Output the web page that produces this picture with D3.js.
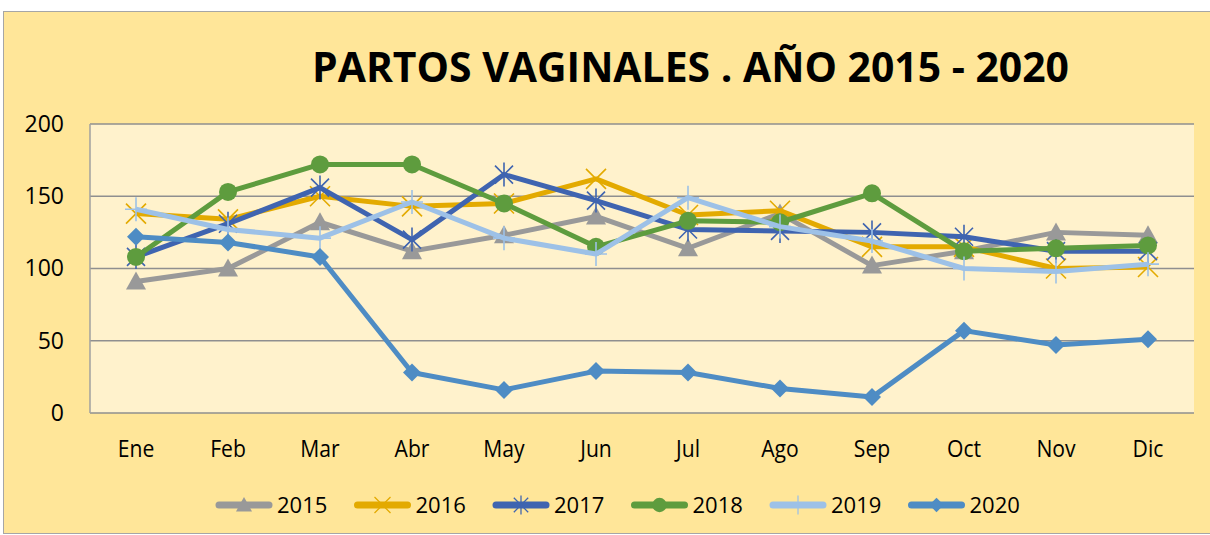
<!DOCTYPE html>
<html>
<head>
<meta charset="utf-8">
<script src="https://d3js.org/d3.v7.min.js"></script>
<style>
  body { margin: 0; background: #ffffff; }
  text { font-family: "Open Sans", "DejaVu Sans", sans-serif; }
</style>
</head>
<body>
<div id="my_dataviz"></div>
<script>
// data
var months = ["Ene", "Feb", "Mar", "Abr", "May", "Jun", "Jul", "Ago", "Sep", "Oct", "Nov", "Dic"];
var years = ["2015", "2016", "2017", "2018", "2019", "2020"];
var s2015 = [91, 100, 132, 112, 123, 136, 114, 138, 102, 112, 125, 123];
var s2016 = [138, 134, 150, 143, 145, 162, 137, 140, 115, 115, 100, 101];
var s2017 = [108, 131, 156, 120, 165, 147, 127, 126, 125, 122, 112, 112];
var s2018 = [108, 153, 172, 172, 145, 115, 133, 132, 152, 112, 114, 116];
var s2019 = [141, 127, 121, 146, 121, 110, 149, 129, 119, 100, 98, 103];
var s2020 = [122, 118, 108, 28, 16, 29, 28, 17, 11, 57, 47, 51];
var yTicks = [0, 50, 100, 150, 200];

var seriesValues = [s2015, s2016, s2017, s2018, s2019, s2020];
var colors = ["#999999", "#E3AA00", "#3F64B0", "#5E9C3E", "#9DC1E7", "#4E8CC4"];
var markers = ["triangle", "x", "asterisk", "circle", "plus", "diamond"];

var W = 1210, H = 535;
// plot area
var margin = {top: 124, right: 16, bottom: 122, left: 90},
    width = W - margin.left - margin.right,
    height = H - margin.top - margin.bottom;

var root = d3.select("#my_dataviz")
  .append("svg")
    .attr("width", W)
    .attr("height", H);

// chart area background
root.append("rect")
  .attr("x", 3.5).attr("y", 11.5)
  .attr("width", W).attr("height", H - 13)
  .attr("fill", "#FFE699")
  .attr("stroke", "#A6A6A6")
  .attr("stroke-width", 1);

// title
root.append("text")
  .attr("x", 312)
  .attr("y", 82)
  .attr("textLength", 757)
  .attr("lengthAdjust", "spacingAndGlyphs")
  .style("font-size", "42px")
  .style("font-weight", "bold")
  .style("fill", "#000")
  .text("PARTOS VAGINALES . AÑO 2015 - 2020");

var svg = root.append("g")
  .attr("transform", "translate(" + margin.left + "," + margin.top + ")");

// plot area background
svg.append("rect")
  .attr("width", width)
  .attr("height", height)
  .attr("fill", "#FFF2CC");

var x = d3.scaleBand()
  .domain(months)
  .range([0, width]);

var y = d3.scaleLinear()
  .domain([0, 200])
  .range([height, 0]);

// gridlines
svg.append("g")
  .selectAll("line")
  .data(yTicks)
  .enter()
  .append("line")
    .attr("x1", 0).attr("x2", width)
    .attr("y1", function(d) { return y(d); })
    .attr("y2", function(d) { return y(d); })
    .attr("stroke", "#8F8F8F")
    .attr("stroke-width", 1.5);

svg.append("line")
  .attr("x1", 0).attr("x2", 0)
  .attr("y1", 0).attr("y2", height)
  .attr("stroke", "#A0A0A0")
  .attr("stroke-width", 1.5);

// X axis
var xAxis = svg.append("g")
  .attr("transform", "translate(0," + height + ")")
  .call(d3.axisBottom(x).tickSize(0).tickPadding(28));
xAxis.select(".domain").remove();
xAxis.selectAll("text")
  .style("font-size", "23px")
  .style("font-family", "'Open Sans', sans-serif")
  .attr("fill", "#000")
  .attr("transform", "scale(0.92,1)");

// Y axis
var yAxis = svg.append("g")
  .call(d3.axisLeft(y).tickValues(yTicks).tickSize(0).tickPadding(26));
yAxis.select(".domain").remove();
yAxis.selectAll("text")
  .style("font-size", "23px")
  .style("font-family", "'Open Sans', sans-serif")
  .attr("fill", "#000");

// marker shapes
function drawMarker(g, type, color) {
  if (type == "triangle") {
    g.append("path").attr("d", "M0,-10L10,8L-10,8Z").attr("fill", color);
  } else if (type == "circle") {
    g.append("circle").attr("r", 9).attr("fill", color);
  } else if (type == "diamond") {
    g.append("path").attr("d", "M0,-9L9,0L0,9L-9,0Z").attr("fill", color);
  } else if (type == "x") {
    g.append("path").attr("d", "M-10,-10L10,10M-10,10L10,-10")
      .attr("stroke", color).attr("stroke-width", 1.6).attr("fill", "none");
  } else if (type == "asterisk") {
    g.append("path").attr("d", "M-9,-9L9,9M-9,9L9,-9M0,-12L0,12")
      .attr("stroke", color).attr("stroke-width", 1.6).attr("fill", "none");
  } else if (type == "plus") {
    g.append("path").attr("d", "M0,-12L0,12M-11,0L11,0")
      .attr("stroke", color).attr("stroke-width", 1.6).attr("fill", "none");
  }
}

var line = d3.line()
  .x(function(d, i) { return x(months[i]) + x.bandwidth() / 2; })
  .y(function(d) { return y(d); });

// lines and markers
seriesValues.forEach(function(vals, k) {
  svg.append("path")
    .datum(vals)
    .attr("d", line)
    .attr("fill", "none")
    .attr("stroke", colors[k])
    .attr("stroke-width", 5)
    .attr("stroke-linejoin", "round");

  svg.append("g")
    .selectAll("g")
    .data(vals)
    .enter()
    .append("g")
      .attr("transform", function(d, i) {
        return "translate(" + (x(months[i]) + x.bandwidth() / 2) + "," + y(d) + ")";
      })
      .each(function() { drawMarker(d3.select(this), markers[k], colors[k]); });
});

// legend
var legend = root.append("g")
  .attr("transform", "translate(216,505)");

years.forEach(function(yr, k) {
  var item = legend.append("g")
    .attr("transform", "translate(" + (k * 138.5) + ",0)");
  item.append("line")
    .attr("x1", 3).attr("x2", 53)
    .attr("stroke", colors[k])
    .attr("stroke-width", 7)
    .attr("stroke-linecap", "round");
  var m = item.append("g").attr("transform", "translate(28,0) scale(0.8)");
  drawMarker(m, markers[k], colors[k]);
  item.append("text")
    .attr("x", 61)
    .attr("y", 8)
    .style("font-size", "22px")
    .attr("fill", "#000")
    .text(yr);
});
</script>
</body>
</html>
